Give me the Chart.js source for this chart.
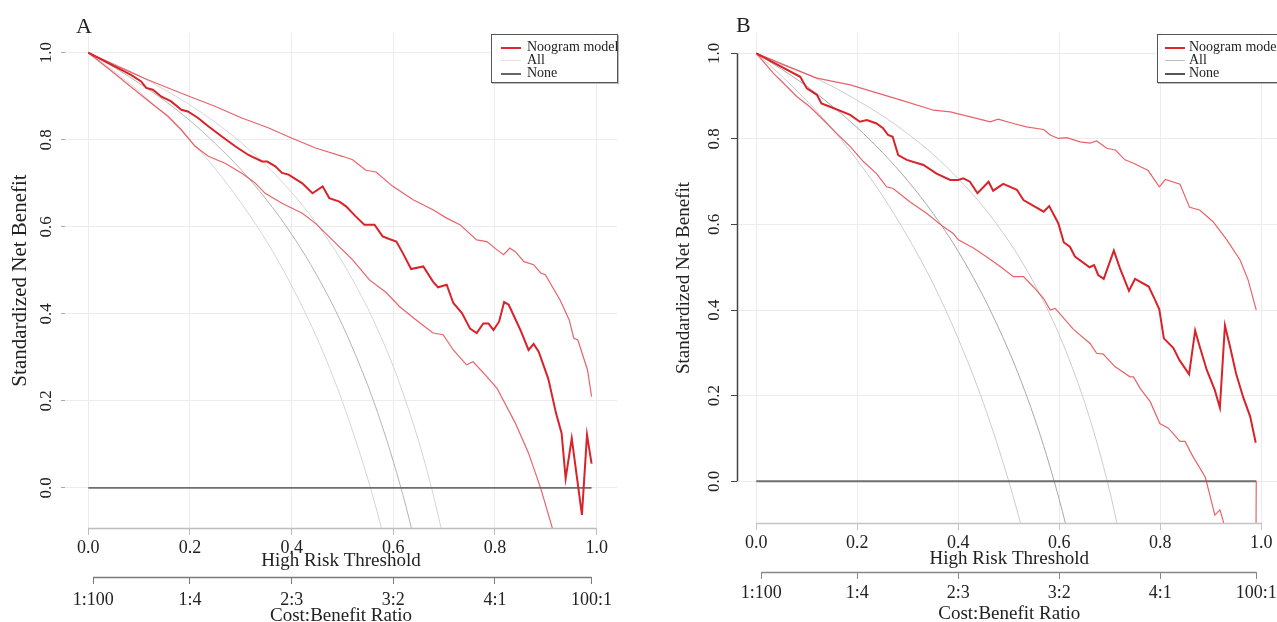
<!DOCTYPE html>
<html>
<head>
<meta charset="utf-8">
<script src="https://cdn.jsdelivr.net/npm/chart.js@4.4.1/dist/chart.umd.min.js"></script>
<style>
  body { margin:0; width:1277px; height:622px; overflow:hidden; background:#fff; position:relative; font-family:"Liberation Serif", serif; color:#222; }
  canvas { position:absolute; top:0; }
  #cA { left:0; }
  #cB { left:640px; }
  .tag { position:absolute; font-size:22px; line-height:22px; }
  .leg { position:absolute; top:34px; height:49px; border:1.5px solid #555; box-shadow:1px 1px 0 #bbb; background:#fff; font-size:14px; line-height:13px; box-sizing:border-box; padding-top:5px; white-space:nowrap; }
  .leg div { height:13px; }
  .leg span { display:inline-block; width:20px; height:2px; vertical-align:middle; }
</style>
</head>
<body>
<canvas id="cA" width="640" height="640"></canvas>
<canvas id="cB" width="660" height="640"></canvas>
<div class="tag" style="left:76px;top:15px">A</div>
<div class="tag" style="left:736px;top:14px">B</div>
<div class="leg" style="left:491px;width:127px">
  <div><span style="background:#e0282e;margin:0 6px 0 9px"></span>Noogram model</div>
  <div><span style="background:#e2e2e2;height:1px;margin:0 6px 0 9px"></span>All</div>
  <div><span style="background:#666;margin:0 6px 0 9px"></span>None</div>
</div>
<div class="leg" style="left:1157px;width:140px">
  <div><span style="background:#e0282e;margin:0 4px 0 7px"></span>Noogram model</div>
  <div><span style="background:#bbb;height:1px;margin:0 4px 0 7px"></span>All</div>
  <div><span style="background:#555;margin:0 4px 0 7px"></span>None</div>
</div>
<script>
// axis ticks
const thresholdTicks = [0, 0.2, 0.4, 0.6, 0.8, 1.0];
const ratioTicks = [0.01, 0.2, 0.4, 0.6, 0.8, 0.99];
const ratioLabels = ['1:100', '1:4', '2:3', '3:2', '4:1', '100:1'];
const benefitTicks = [0, 0.2, 0.4, 0.6, 0.8, 1.0];

const noneT = [0, 0.99];
const noneV = [0, 0];

// panel A - nomogram model and its bounds
const aModelT = [0, 0.084, 0.104, 0.114, 0.127, 0.144, 0.163, 0.183, 0.196, 0.216, 0.236, 0.262, 0.289, 0.315, 0.342, 0.352, 0.368, 0.381, 0.394, 0.421, 0.441, 0.461, 0.474, 0.494, 0.507, 0.526, 0.543, 0.563, 0.579, 0.592, 0.606, 0.619, 0.635, 0.659, 0.678, 0.688, 0.705, 0.718, 0.735, 0.751, 0.764, 0.777, 0.787, 0.797, 0.808, 0.818, 0.827, 0.850, 0.866, 0.876, 0.886, 0.905, 0.920, 0.931, 0.939, 0.951, 0.971, 0.981, 0.990];
const aModelV = [1, 0.949, 0.934, 0.919, 0.915, 0.899, 0.888, 0.869, 0.865, 0.850, 0.831, 0.808, 0.785, 0.765, 0.750, 0.750, 0.739, 0.724, 0.720, 0.700, 0.677, 0.693, 0.666, 0.658, 0.647, 0.624, 0.605, 0.605, 0.578, 0.572, 0.566, 0.539, 0.503, 0.509, 0.474, 0.461, 0.467, 0.425, 0.402, 0.366, 0.356, 0.378, 0.378, 0.363, 0.382, 0.427, 0.421, 0.363, 0.317, 0.331, 0.313, 0.250, 0.172, 0.126, 0.022, 0.114, -0.062, 0.122, 0.056];
const aUpT = [0, 0.051, 0.117, 0.183, 0.249, 0.302, 0.355, 0.394, 0.447, 0.500, 0.520, 0.546, 0.566, 0.599, 0.639, 0.678, 0.705, 0.731, 0.764, 0.784, 0.804, 0.817, 0.829, 0.840, 0.857, 0.876, 0.890, 0.899, 0.928, 0.946, 0.955, 0.963, 0.982, 0.990];
const aUpV = [1, 0.972, 0.938, 0.907, 0.877, 0.850, 0.827, 0.807, 0.781, 0.762, 0.754, 0.730, 0.726, 0.693, 0.662, 0.639, 0.620, 0.605, 0.570, 0.566, 0.547, 0.536, 0.551, 0.543, 0.520, 0.513, 0.494, 0.490, 0.432, 0.386, 0.344, 0.340, 0.271, 0.210];
const aLowT = [0, 0.051, 0.091, 0.124, 0.157, 0.183, 0.210, 0.236, 0.269, 0.302, 0.328, 0.348, 0.381, 0.421, 0.447, 0.480, 0.520, 0.553, 0.586, 0.612, 0.645, 0.678, 0.698, 0.718, 0.744, 0.757, 0.784, 0.804, 0.840, 0.866, 0.890, 0.912, 0.925];
const aLowV = [1, 0.953, 0.915, 0.884, 0.854, 0.823, 0.785, 0.762, 0.746, 0.723, 0.701, 0.677, 0.654, 0.631, 0.608, 0.570, 0.524, 0.478, 0.449, 0.417, 0.386, 0.356, 0.352, 0.317, 0.283, 0.290, 0.256, 0.229, 0.149, 0.080, -0.001, -0.089, -0.150];
// panel A - treat all curves
const aGrayT = [0, 0.05, 0.1, 0.15, 0.2, 0.25, 0.3, 0.35, 0.4, 0.45, 0.5, 0.55, 0.575, 0.6, 0.625, 0.65, 0.675, 0.7, 0.725];
const aAllLo = [1, 0.958, 0.911, 0.858, 0.800, 0.733, 0.656, 0.568, 0.465, 0.344, 0.198, 0.020, -0.085, -0.203, null, null, null, null, null];
const aAllMid = [1, 0.967, 0.930, 0.890, 0.844, 0.791, 0.732, 0.663, 0.583, 0.488, 0.374, 0.235, 0.153, 0.061, -0.043, -0.163, null, null, null];
const aAllHi = [1, 0.975, 0.947, 0.915, 0.880, 0.840, 0.794, 0.741, 0.679, 0.606, 0.519, 0.412, 0.349, 0.279, 0.198, 0.107, 0.001, -0.122, null];

// panel B - nomogram model and its bounds
const bModelT = [0, 0.087, 0.100, 0.120, 0.129, 0.146, 0.186, 0.205, 0.219, 0.238, 0.251, 0.261, 0.270, 0.281, 0.298, 0.331, 0.357, 0.384, 0.400, 0.410, 0.423, 0.438, 0.460, 0.469, 0.489, 0.516, 0.529, 0.569, 0.580, 0.598, 0.609, 0.621, 0.631, 0.660, 0.669, 0.677, 0.688, 0.708, 0.720, 0.738, 0.750, 0.777, 0.788, 0.798, 0.807, 0.826, 0.838, 0.857, 0.869, 0.878, 0.892, 0.908, 0.918, 0.928, 0.938, 0.950, 0.964, 0.978, 0.989];
const bModelV = [1, 0.945, 0.918, 0.903, 0.883, 0.875, 0.856, 0.840, 0.844, 0.836, 0.825, 0.809, 0.805, 0.762, 0.751, 0.739, 0.719, 0.704, 0.704, 0.708, 0.700, 0.673, 0.700, 0.679, 0.695, 0.681, 0.657, 0.630, 0.643, 0.603, 0.558, 0.548, 0.525, 0.500, 0.505, 0.482, 0.473, 0.539, 0.498, 0.445, 0.473, 0.455, 0.428, 0.402, 0.334, 0.311, 0.283, 0.250, 0.352, 0.315, 0.260, 0.213, 0.172, 0.364, 0.315, 0.252, 0.197, 0.151, 0.090];
const bUpT = [0, 0.054, 0.120, 0.186, 0.232, 0.285, 0.351, 0.384, 0.450, 0.463, 0.479, 0.509, 0.535, 0.569, 0.582, 0.598, 0.615, 0.641, 0.661, 0.674, 0.694, 0.711, 0.730, 0.747, 0.776, 0.798, 0.810, 0.839, 0.858, 0.878, 0.904, 0.931, 0.958, 0.974, 0.990];
const bUpV = [1, 0.973, 0.942, 0.926, 0.910, 0.891, 0.867, 0.863, 0.844, 0.840, 0.846, 0.836, 0.828, 0.822, 0.809, 0.801, 0.803, 0.793, 0.790, 0.795, 0.778, 0.774, 0.751, 0.743, 0.726, 0.688, 0.705, 0.694, 0.640, 0.634, 0.607, 0.565, 0.517, 0.470, 0.400];
const bLowT = [0, 0.034, 0.054, 0.080, 0.106, 0.133, 0.159, 0.186, 0.212, 0.238, 0.258, 0.271, 0.304, 0.337, 0.370, 0.390, 0.400, 0.430, 0.455, 0.483, 0.509, 0.529, 0.549, 0.569, 0.582, 0.592, 0.628, 0.661, 0.674, 0.687, 0.710, 0.740, 0.747, 0.760, 0.780, 0.799, 0.816, 0.839, 0.849, 0.865, 0.889, 0.898, 0.908, 0.918, 0.925, 0.935, 0.985, 0.990];
const bLowV = [1, 0.953, 0.930, 0.899, 0.875, 0.844, 0.813, 0.782, 0.747, 0.719, 0.688, 0.684, 0.653, 0.626, 0.595, 0.579, 0.564, 0.545, 0.525, 0.502, 0.478, 0.478, 0.454, 0.427, 0.400, 0.404, 0.355, 0.322, 0.299, 0.297, 0.268, 0.244, 0.244, 0.217, 0.186, 0.135, 0.124, 0.093, 0.093, 0.057, 0.010, -0.032, -0.079, -0.067, -0.095, -0.300, -1.200, 0.000];
// panel B - treat all curves
const bGrayT = [0, 0.05, 0.1, 0.15, 0.2, 0.25, 0.3, 0.35, 0.4, 0.45, 0.5, 0.525, 0.55, 0.575, 0.6, 0.625, 0.65, 0.675, 0.7, 0.725];
const bAllLo = [1, 0.947, 0.889, 0.824, 0.750, 0.667, 0.571, 0.462, 0.333, 0.182, 0.000, -0.105, null, null, null, null, null, null, null, null];
const bAllMid = [1, 0.963, 0.923, 0.877, 0.826, 0.768, 0.702, 0.626, 0.537, 0.431, 0.305, 0.232, 0.151, 0.060, -0.043, -0.158, null, null, null, null];
const bAllHi = [1, 0.977, 0.951, 0.923, 0.890, 0.854, 0.812, 0.764, 0.707, 0.641, 0.561, 0.515, 0.463, 0.406, 0.342, 0.268, 0.185, 0.088, -0.024, -0.157];

const SERIF = '"Liberation Serif", "Times New Roman", serif';

function series(ts, vs, color, width, order, smooth) {
  return {
    data: ts.map((t, i) => ({ x: t, y: vs[i] })).filter(p => p.y !== null),
    borderColor: color,
    borderWidth: width,
    pointRadius: 0,
    showLine: true,
    fill: false,
    order: order,
    tension: 0,
    cubicInterpolationMode: smooth ? 'monotone' : 'default',
    capBezierPoints: false,
    xAxisID: 'x',
    yAxisID: 'y'
  };
}

// draws the R-style axis lines that only span the data range
const axisLines = {
  id: 'axisLines',
  afterDraw(chart, args, o) {
    const { ctx, chartArea, scales } = chart;
    const seg = (x1, y1, x2, y2, col, w) => {
      ctx.beginPath(); ctx.strokeStyle = col; ctx.lineWidth = w;
      ctx.moveTo(x1, y1); ctx.lineTo(x2, y2); ctx.stroke();
    };
    ctx.save();
    const yb = Math.round(chartArea.bottom) + 0.5;
    seg(scales.x.getPixelForValue(0), yb, scales.x.getPixelForValue(1), yb, o.xColor, 1.5);
    const y2 = Math.round(scales.x2.top) + 0.5;
    seg(scales.x2.getPixelForValue(0.01), y2, scales.x2.getPixelForValue(0.99), y2, o.x2Color, 1.5);
    if (o.yAxis) {
      const xl = Math.round(chartArea.left) + 0.5;
      seg(xl, scales.y.getPixelForValue(0), xl, scales.y.getPixelForValue(1), o.yColor, 1.5);
    }
    ctx.restore();
  }
};

function makePanel(id, p) {
  return new Chart(document.getElementById(id), {
    type: 'scatter',
    data: {
      datasets: [
        series(p.modelT, p.modelV, '#d8232a', 2, 0, false),
        series(p.upT, p.upV, 'rgba(226,60,66,0.8)', 1.2, 1, false),
        series(p.lowT, p.lowV, 'rgba(226,60,66,0.8)', 1.2, 1, false),
        series(noneT, noneV, '#6e6e6e', 1.8, 2, false),
        series(p.grayT, p.allMid, p.grayMid, 1, 3, true),
        series(p.grayT, p.allLo, p.grayOut, 1, 4, true),
        series(p.grayT, p.allHi, p.grayOut, 1, 4, true)
      ]
    },
    plugins: [axisLines],
    options: {
      responsive: false,
      devicePixelRatio: 1,
      animation: false,
      events: [],
      layout: { padding: { top: 33, right: p.padRight, left: 0, bottom: 0 } },
      plugins: {
        legend: { display: false },
        tooltip: { enabled: false },
        axisLines: { xColor: p.xLine, x2Color: p.x2Line, yAxis: p.yAxisLine, yColor: '#444' }
      },
      scales: {
        x: {
          type: 'linear', position: 'bottom', min: p.xMin, max: p.xMax,
          afterBuildTicks: s => { s.ticks = thresholdTicks.map(v => ({ value: v })); },
          afterFit: s => { s.height = 49; },
          ticks: { callback: v => v.toFixed(1), font: { family: SERIF, size: 18 }, color: '#222', padding: 2, maxRotation: 0, autoSkip: false },
          grid: { color: '#ececec', lineWidth: 1, tickLength: 7, tickColor: p.xLine },
          border: { display: false },
          title: { display: true, text: 'High Risk Threshold', font: { family: SERIF, size: 19 }, color: '#222', padding: { top: 0, bottom: p.xTitlePad } }
        },
        x2: {
          type: 'linear', position: 'bottom', min: p.xMin, max: p.xMax,
          afterBuildTicks: s => { s.ticks = ratioTicks.map(v => ({ value: v })); },
          afterFit: s => { s.height = p.x2Height; },
          ticks: { callback: v => ratioLabels[ratioTicks.indexOf(v)], font: { family: SERIF, size: 18 }, color: '#222', padding: p.x2TickPad, maxRotation: 0, autoSkip: false },
          grid: { drawOnChartArea: false, tickLength: 7, tickColor: p.x2Line },
          border: { display: false },
          title: { display: true, text: 'Cost:Benefit Ratio', font: { family: SERIF, size: 19 }, color: '#222', padding: { top: 0, bottom: p.x2TitlePad } }
        },
        y: {
          type: 'linear', min: p.yMin, max: p.yMax,
          afterBuildTicks: s => { s.ticks = benefitTicks.map(v => ({ value: v })); },
          afterFit: s => { s.width = p.yWidth; },
          ticks: { callback: v => v.toFixed(1), font: { family: SERIF, size: 17 }, color: '#222', minRotation: 90, maxRotation: 90, crossAlign: 'center', padding: p.yTickPad, autoSkip: false },
          grid: { color: '#ececec', lineWidth: 1, tickLength: p.yTickLen, tickColor: p.yTickColor },
          border: { display: false },
          title: { display: true, text: 'Standardized Net Benefit', font: { family: SERIF, size: p.yTitleSize }, color: '#222', padding: { top: p.yTitlePad, bottom: 0 } }
        }
      }
    }
  });
}

makePanel('cA', {
  modelT: aModelT, modelV: aModelV, upT: aUpT, upV: aUpV, lowT: aLowT, lowV: aLowV,
  grayT: aGrayT, allLo: aAllLo, allMid: aAllMid, allHi: aAllHi,
  grayMid: '#b4b4b4', grayOut: '#d6d6d6',
  padRight: 23, xMin: -0.0458, xMax: 1.040, yMin: -0.092, yMax: 1.0453,
  yWidth: 65, yTickPad: 3.4, yTickLen: 4, yTickColor: '#aaa', yTitleSize: 21, yTitlePad: 7.4,
  xTitlePad: 5, x2Height: 63, x2TickPad: 5, x2TitlePad: 12.6,
  xLine: '#bdbdbd', x2Line: '#7a7a7a', yAxisLine: false
});

makePanel('cB', {
  modelT: bModelT, modelV: bModelV, upT: bUpT, upV: bUpV, lowT: bLowT, lowV: bLowV,
  grayT: bGrayT, allLo: bAllLo, allMid: bAllMid, allHi: bAllHi,
  grayMid: '#a8a8a8', grayOut: '#cdcdcd',
  padRight: 18.5, xMin: -0.0382, xMax: 1.040, yMin: -0.0975, yMax: 1.0474,
  yWidth: 97, yTickPad: 5.4, yTickLen: 6, yTickColor: '#444', yTitleSize: 19, yTitlePad: 32.3,
  xTitlePad: 1.6, x2Height: 68, x2TickPad: 3, x2TitlePad: 14.6,
  xLine: '#c4c4c4', x2Line: '#888', yAxisLine: true
});
</script>
</body>
</html>
